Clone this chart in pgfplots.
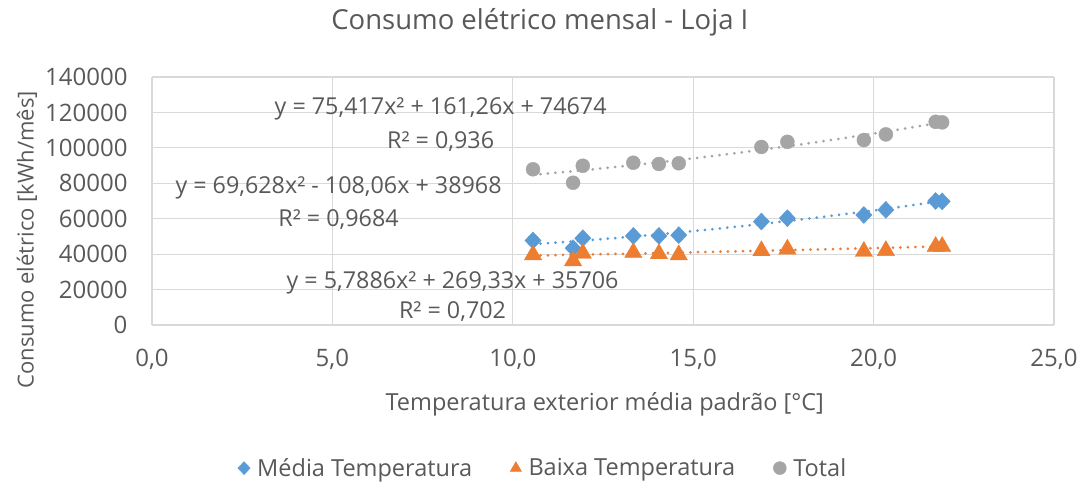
\documentclass[border=0pt]{standalone}
\usepackage{pgfplots}
\pgfplotsset{compat=1.18}
\usepackage{fontspec}
\setmainfont{Open Sans}
\definecolor{cblue}{HTML}{5B9BD5}
\definecolor{corange}{HTML}{ED7D31}
\definecolor{cgray}{HTML}{A5A5A5}
\definecolor{ctext}{HTML}{595959}
\definecolor{cgrid}{HTML}{D9D9D9}
\begin{document}
\begin{tikzpicture}
\useasboundingbox (-152pt,-162pt) rectangle (931pt,325pt);
\begin{axis}[
  at={(0,0)}, anchor=south west,
  scale only axis, width=902pt, height=248pt,
  xmin=0, xmax=25, ymin=0, ymax=140000,
  xtick={0,5,10,15,20,25},
  xticklabels={{0,0},{5,0},{10,0},{15,0},{20,0},{25,0}},
  ytick={0,20000,40000,60000,80000,100000,120000,140000},
  yticklabel style={/pgf/number format/1000 sep={}, /pgf/number format/fixed},
  scaled y ticks=false,
  /pgf/number format/assume math mode=true,
  grid=major, major grid style={cgrid, line width=1.2pt},
  axis line style={draw=none},
  tick style={draw=none},
  ticklabel style={font=\fontsize{24}{28}\selectfont, text=ctext},
  xticklabel style={yshift=-21pt},
  yticklabel style={xshift=-21pt},
  title={Consumo elétrico mensal - Loja I},
  title style={at={(axis description cs:0.43,1.198)}, anchor=center, font=\fontsize{27.5}{32}\selectfont, text=ctext},
  xlabel={Temperatura exterior média padrão [°C]},
  xlabel style={at={(axis description cs:0.502,-0.319)}, anchor=center, font=\fontsize{23.5}{28}\selectfont, text=ctext},
  ylabel={Consumo elétrico [kWh/mês]},
  ylabel style={at={(axis description cs:-0.1386,0.343)}, anchor=center, rotate=0, font=\fontsize{22}{26}\selectfont, text=ctext},
  legend columns=3,
  legend style={at={(axis description cs:0.4335,-0.577)}, anchor=center, draw=none, fill=none,
    font=\fontsize{23.5}{28}\selectfont, text=ctext,
    /tikz/every odd column/.append style={column sep=5pt},
    /tikz/every even column/.append style={column sep=36pt}},
  legend image post style={mark size=6.5pt},
  legend cell align=left,
  clip=false,
]
% trend lines
\addplot[forget plot, cblue, line width=3pt, line cap=round, dash pattern=on 0pt off 7.5pt, smooth]
  coordinates {(10.56,45591) (12,47698) (14,51102) (16,55064) (18,59582) (20,64658) (21.9,69996)};
\addplot[forget plot, corange, line width=3pt, line cap=round, dash pattern=on 0pt off 7.5pt, smooth]
  coordinates {(10.56,39196) (12,39772) (14,40611) (16,41497) (18,42429) (20,43408) (21.9,44381)};
\addplot[forget plot, cgray, line width=3pt, line cap=round, dash pattern=on 0pt off 7.5pt, smooth]
  coordinates {(10.56,84787) (12,87469) (14,91713) (16,96561) (18,102012) (20,108066) (21.9,114377)};
% data
\addplot[only marks, mark=diamond*, mark size=8.5pt, color=cblue, mark options={fill=cblue, draw=cblue, xscale=1.27}]
  coordinates {(10.56,47700) (11.67,43400) (11.94,49000) (13.34,50300) (14.05,50300) (14.6,50700)
   (16.89,58400) (17.61,60300) (19.73,62100) (20.34,65000) (21.72,70000) (21.9,69800)};
\addlegendentry{Média Temperatura}
\addplot[only marks, mark=triangle*, mark size=10pt, color=corange, mark options={fill=corange, draw=corange}]
  coordinates {(10.56,39600) (11.67,36200) (11.94,40500) (13.34,40900) (14.05,40200) (14.6,39600)
   (16.89,41900) (17.61,42800) (19.73,41500) (20.34,42000) (21.72,44300) (21.9,44300)};
\addlegendentry{Baixa Temperatura}
\addplot[only marks, mark=*, mark size=7pt, color=cgray, mark options={fill=cgray, draw=cgray}]
  coordinates {(10.56,87900) (11.67,80300) (11.94,89900) (13.34,91600) (14.05,90900) (14.6,91300)
   (16.89,100500) (17.61,103400) (19.73,104400) (20.34,107600) (21.72,114700) (21.9,114400)};
\addlegendentry{Total}
% equations
\node[align=center, text=ctext, font=\fontsize{23.3}{34}\selectfont] at (axis cs:8.0,113100) {y = 75,417x² + 161,26x + 74674\\R² = 0,936};
\node[align=center, text=ctext, font=\fontsize{23.3}{33}\selectfont] at (axis cs:5.17,68600) {y = 69,628x² - 108,06x + 38968\\R² = 0,9684};
\node[align=center, text=ctext, font=\fontsize{23.3}{30}\selectfont] at (axis cs:8.33,15900) {y = 5,7886x² + 269,33x + 35706\\R² = 0,702};
\end{axis}
\end{tikzpicture}
\end{document}
